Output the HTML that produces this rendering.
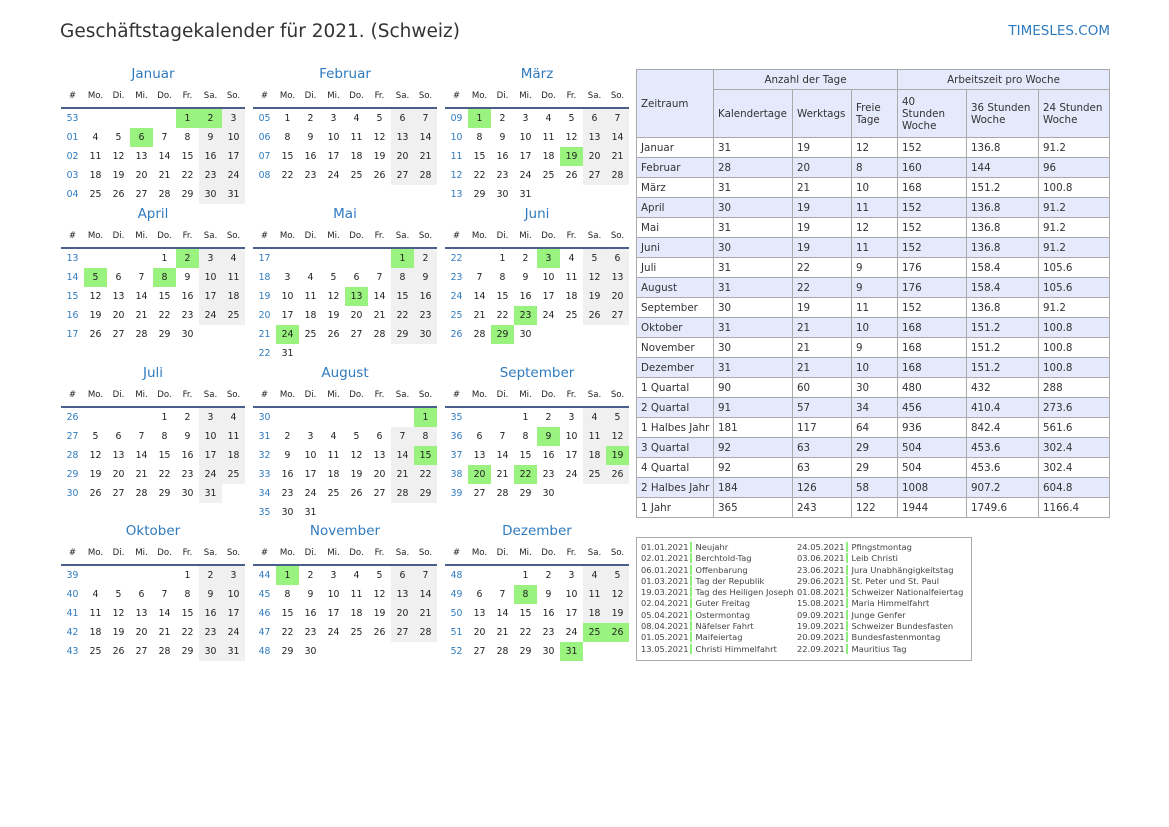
<!DOCTYPE html><html><head><meta charset="utf-8"><style>
body{margin:0;width:1169px;height:827px;background:#fff;font-family:"DejaVu Sans","Liberation Sans",sans-serif;color:#222;position:relative;overflow:hidden}
.t{position:absolute;left:60px;top:21px;font-size:18.5px;color:#333}
.l{position:absolute;right:59px;top:23px;font-size:13.5px;color:#2f7bbf}
.m{position:absolute;width:184px}
.m .h{height:20px;line-height:18px;text-align:center;font-size:13.5px;color:#2f7bbf}
.m table{border-collapse:collapse;width:184px;table-layout:fixed}
.m td{width:23px;height:19px;padding:0;text-align:center;font-size:9.3px;line-height:17px}
.m tr.hd td{height:22px;line-height:22px;font-size:8.6px;border-bottom:2px solid #4a5f8a}
.m td.w{color:#2f7bbf}
.m td.s{background:#f0f0f0}
.m td.g{background:#9af27f}
.k{position:absolute;left:636px;top:69px;border-collapse:collapse;font-size:10.3px;color:#333}
.k td{border:1px solid #aaa;padding:0 0 0 4px;height:19px;line-height:12px;background:#fff}
.k tr.a td,.k tr.hh td{background:#e5e9fc}
.f{position:absolute;left:636px;top:537px;width:334px;height:122px;border:1px solid #aaa;font-size:8.3px;color:#444}
.f div{position:absolute;line-height:11.3px;white-space:nowrap}
.f span{border-right:2px solid #8ef07a;padding-right:1px;margin-right:4px}
</style></head><body>
<div class="t">Geschäftstagekalender für 2021. (Schweiz)</div>
<div class="l">TIMESLES.COM</div>

<div class="m" style="left:61px;top:65px"><div class="h">Januar</div><table>
<tr class="hd"><td>#</td><td>Mo.</td><td>Di.</td><td>Mi.</td><td>Do.</td><td>Fr.</td><td>Sa.</td><td>So.</td></tr>
<tr><td class="w">53</td><td></td><td></td><td></td><td></td><td class="g">1</td><td class="g">2</td><td class="s">3</td></tr>
<tr><td class="w">01</td><td>4</td><td>5</td><td class="g">6</td><td>7</td><td>8</td><td class="s">9</td><td class="s">10</td></tr>
<tr><td class="w">02</td><td>11</td><td>12</td><td>13</td><td>14</td><td>15</td><td class="s">16</td><td class="s">17</td></tr>
<tr><td class="w">03</td><td>18</td><td>19</td><td>20</td><td>21</td><td>22</td><td class="s">23</td><td class="s">24</td></tr>
<tr><td class="w">04</td><td>25</td><td>26</td><td>27</td><td>28</td><td>29</td><td class="s">30</td><td class="s">31</td></tr>
</table></div>

<div class="m" style="left:253px;top:65px"><div class="h">Februar</div><table>
<tr class="hd"><td>#</td><td>Mo.</td><td>Di.</td><td>Mi.</td><td>Do.</td><td>Fr.</td><td>Sa.</td><td>So.</td></tr>
<tr><td class="w">05</td><td>1</td><td>2</td><td>3</td><td>4</td><td>5</td><td class="s">6</td><td class="s">7</td></tr>
<tr><td class="w">06</td><td>8</td><td>9</td><td>10</td><td>11</td><td>12</td><td class="s">13</td><td class="s">14</td></tr>
<tr><td class="w">07</td><td>15</td><td>16</td><td>17</td><td>18</td><td>19</td><td class="s">20</td><td class="s">21</td></tr>
<tr><td class="w">08</td><td>22</td><td>23</td><td>24</td><td>25</td><td>26</td><td class="s">27</td><td class="s">28</td></tr>
</table></div>

<div class="m" style="left:445px;top:65px"><div class="h">März</div><table>
<tr class="hd"><td>#</td><td>Mo.</td><td>Di.</td><td>Mi.</td><td>Do.</td><td>Fr.</td><td>Sa.</td><td>So.</td></tr>
<tr><td class="w">09</td><td class="g">1</td><td>2</td><td>3</td><td>4</td><td>5</td><td class="s">6</td><td class="s">7</td></tr>
<tr><td class="w">10</td><td>8</td><td>9</td><td>10</td><td>11</td><td>12</td><td class="s">13</td><td class="s">14</td></tr>
<tr><td class="w">11</td><td>15</td><td>16</td><td>17</td><td>18</td><td class="g">19</td><td class="s">20</td><td class="s">21</td></tr>
<tr><td class="w">12</td><td>22</td><td>23</td><td>24</td><td>25</td><td>26</td><td class="s">27</td><td class="s">28</td></tr>
<tr><td class="w">13</td><td>29</td><td>30</td><td>31</td><td></td><td></td><td></td><td></td></tr>
</table></div>

<div class="m" style="left:61px;top:205px"><div class="h">April</div><table>
<tr class="hd"><td>#</td><td>Mo.</td><td>Di.</td><td>Mi.</td><td>Do.</td><td>Fr.</td><td>Sa.</td><td>So.</td></tr>
<tr><td class="w">13</td><td></td><td></td><td></td><td>1</td><td class="g">2</td><td class="s">3</td><td class="s">4</td></tr>
<tr><td class="w">14</td><td class="g">5</td><td>6</td><td>7</td><td class="g">8</td><td>9</td><td class="s">10</td><td class="s">11</td></tr>
<tr><td class="w">15</td><td>12</td><td>13</td><td>14</td><td>15</td><td>16</td><td class="s">17</td><td class="s">18</td></tr>
<tr><td class="w">16</td><td>19</td><td>20</td><td>21</td><td>22</td><td>23</td><td class="s">24</td><td class="s">25</td></tr>
<tr><td class="w">17</td><td>26</td><td>27</td><td>28</td><td>29</td><td>30</td><td></td><td></td></tr>
</table></div>

<div class="m" style="left:253px;top:205px"><div class="h">Mai</div><table>
<tr class="hd"><td>#</td><td>Mo.</td><td>Di.</td><td>Mi.</td><td>Do.</td><td>Fr.</td><td>Sa.</td><td>So.</td></tr>
<tr><td class="w">17</td><td></td><td></td><td></td><td></td><td></td><td class="g">1</td><td class="s">2</td></tr>
<tr><td class="w">18</td><td>3</td><td>4</td><td>5</td><td>6</td><td>7</td><td class="s">8</td><td class="s">9</td></tr>
<tr><td class="w">19</td><td>10</td><td>11</td><td>12</td><td class="g">13</td><td>14</td><td class="s">15</td><td class="s">16</td></tr>
<tr><td class="w">20</td><td>17</td><td>18</td><td>19</td><td>20</td><td>21</td><td class="s">22</td><td class="s">23</td></tr>
<tr><td class="w">21</td><td class="g">24</td><td>25</td><td>26</td><td>27</td><td>28</td><td class="s">29</td><td class="s">30</td></tr>
<tr><td class="w">22</td><td>31</td><td></td><td></td><td></td><td></td><td></td><td></td></tr>
</table></div>

<div class="m" style="left:445px;top:205px"><div class="h">Juni</div><table>
<tr class="hd"><td>#</td><td>Mo.</td><td>Di.</td><td>Mi.</td><td>Do.</td><td>Fr.</td><td>Sa.</td><td>So.</td></tr>
<tr><td class="w">22</td><td></td><td>1</td><td>2</td><td class="g">3</td><td>4</td><td class="s">5</td><td class="s">6</td></tr>
<tr><td class="w">23</td><td>7</td><td>8</td><td>9</td><td>10</td><td>11</td><td class="s">12</td><td class="s">13</td></tr>
<tr><td class="w">24</td><td>14</td><td>15</td><td>16</td><td>17</td><td>18</td><td class="s">19</td><td class="s">20</td></tr>
<tr><td class="w">25</td><td>21</td><td>22</td><td class="g">23</td><td>24</td><td>25</td><td class="s">26</td><td class="s">27</td></tr>
<tr><td class="w">26</td><td>28</td><td class="g">29</td><td>30</td><td></td><td></td><td></td><td></td></tr>
</table></div>

<div class="m" style="left:61px;top:364px"><div class="h">Juli</div><table>
<tr class="hd"><td>#</td><td>Mo.</td><td>Di.</td><td>Mi.</td><td>Do.</td><td>Fr.</td><td>Sa.</td><td>So.</td></tr>
<tr><td class="w">26</td><td></td><td></td><td></td><td>1</td><td>2</td><td class="s">3</td><td class="s">4</td></tr>
<tr><td class="w">27</td><td>5</td><td>6</td><td>7</td><td>8</td><td>9</td><td class="s">10</td><td class="s">11</td></tr>
<tr><td class="w">28</td><td>12</td><td>13</td><td>14</td><td>15</td><td>16</td><td class="s">17</td><td class="s">18</td></tr>
<tr><td class="w">29</td><td>19</td><td>20</td><td>21</td><td>22</td><td>23</td><td class="s">24</td><td class="s">25</td></tr>
<tr><td class="w">30</td><td>26</td><td>27</td><td>28</td><td>29</td><td>30</td><td class="s">31</td><td></td></tr>
</table></div>

<div class="m" style="left:253px;top:364px"><div class="h">August</div><table>
<tr class="hd"><td>#</td><td>Mo.</td><td>Di.</td><td>Mi.</td><td>Do.</td><td>Fr.</td><td>Sa.</td><td>So.</td></tr>
<tr><td class="w">30</td><td></td><td></td><td></td><td></td><td></td><td></td><td class="g">1</td></tr>
<tr><td class="w">31</td><td>2</td><td>3</td><td>4</td><td>5</td><td>6</td><td class="s">7</td><td class="s">8</td></tr>
<tr><td class="w">32</td><td>9</td><td>10</td><td>11</td><td>12</td><td>13</td><td class="s">14</td><td class="g">15</td></tr>
<tr><td class="w">33</td><td>16</td><td>17</td><td>18</td><td>19</td><td>20</td><td class="s">21</td><td class="s">22</td></tr>
<tr><td class="w">34</td><td>23</td><td>24</td><td>25</td><td>26</td><td>27</td><td class="s">28</td><td class="s">29</td></tr>
<tr><td class="w">35</td><td>30</td><td>31</td><td></td><td></td><td></td><td></td><td></td></tr>
</table></div>

<div class="m" style="left:445px;top:364px"><div class="h">September</div><table>
<tr class="hd"><td>#</td><td>Mo.</td><td>Di.</td><td>Mi.</td><td>Do.</td><td>Fr.</td><td>Sa.</td><td>So.</td></tr>
<tr><td class="w">35</td><td></td><td></td><td>1</td><td>2</td><td>3</td><td class="s">4</td><td class="s">5</td></tr>
<tr><td class="w">36</td><td>6</td><td>7</td><td>8</td><td class="g">9</td><td>10</td><td class="s">11</td><td class="s">12</td></tr>
<tr><td class="w">37</td><td>13</td><td>14</td><td>15</td><td>16</td><td>17</td><td class="s">18</td><td class="g">19</td></tr>
<tr><td class="w">38</td><td class="g">20</td><td>21</td><td class="g">22</td><td>23</td><td>24</td><td class="s">25</td><td class="s">26</td></tr>
<tr><td class="w">39</td><td>27</td><td>28</td><td>29</td><td>30</td><td></td><td></td><td></td></tr>
</table></div>

<div class="m" style="left:61px;top:522px"><div class="h">Oktober</div><table>
<tr class="hd"><td>#</td><td>Mo.</td><td>Di.</td><td>Mi.</td><td>Do.</td><td>Fr.</td><td>Sa.</td><td>So.</td></tr>
<tr><td class="w">39</td><td></td><td></td><td></td><td></td><td>1</td><td class="s">2</td><td class="s">3</td></tr>
<tr><td class="w">40</td><td>4</td><td>5</td><td>6</td><td>7</td><td>8</td><td class="s">9</td><td class="s">10</td></tr>
<tr><td class="w">41</td><td>11</td><td>12</td><td>13</td><td>14</td><td>15</td><td class="s">16</td><td class="s">17</td></tr>
<tr><td class="w">42</td><td>18</td><td>19</td><td>20</td><td>21</td><td>22</td><td class="s">23</td><td class="s">24</td></tr>
<tr><td class="w">43</td><td>25</td><td>26</td><td>27</td><td>28</td><td>29</td><td class="s">30</td><td class="s">31</td></tr>
</table></div>

<div class="m" style="left:253px;top:522px"><div class="h">November</div><table>
<tr class="hd"><td>#</td><td>Mo.</td><td>Di.</td><td>Mi.</td><td>Do.</td><td>Fr.</td><td>Sa.</td><td>So.</td></tr>
<tr><td class="w">44</td><td class="g">1</td><td>2</td><td>3</td><td>4</td><td>5</td><td class="s">6</td><td class="s">7</td></tr>
<tr><td class="w">45</td><td>8</td><td>9</td><td>10</td><td>11</td><td>12</td><td class="s">13</td><td class="s">14</td></tr>
<tr><td class="w">46</td><td>15</td><td>16</td><td>17</td><td>18</td><td>19</td><td class="s">20</td><td class="s">21</td></tr>
<tr><td class="w">47</td><td>22</td><td>23</td><td>24</td><td>25</td><td>26</td><td class="s">27</td><td class="s">28</td></tr>
<tr><td class="w">48</td><td>29</td><td>30</td><td></td><td></td><td></td><td></td><td></td></tr>
</table></div>

<div class="m" style="left:445px;top:522px"><div class="h">Dezember</div><table>
<tr class="hd"><td>#</td><td>Mo.</td><td>Di.</td><td>Mi.</td><td>Do.</td><td>Fr.</td><td>Sa.</td><td>So.</td></tr>
<tr><td class="w">48</td><td></td><td></td><td>1</td><td>2</td><td>3</td><td class="s">4</td><td class="s">5</td></tr>
<tr><td class="w">49</td><td>6</td><td>7</td><td class="g">8</td><td>9</td><td>10</td><td class="s">11</td><td class="s">12</td></tr>
<tr><td class="w">50</td><td>13</td><td>14</td><td>15</td><td>16</td><td>17</td><td class="s">18</td><td class="s">19</td></tr>
<tr><td class="w">51</td><td>20</td><td>21</td><td>22</td><td>23</td><td>24</td><td class="g">25</td><td class="g">26</td></tr>
<tr><td class="w">52</td><td>27</td><td>28</td><td>29</td><td>30</td><td class="g">31</td><td></td><td></td></tr>
</table></div>

<table class="k">
<tr class="hh"><td rowspan="2" style="width:72px">Zeitraum</td><td colspan="3" style="text-align:center;padding:0;height:19px">Anzahl der Tage</td><td colspan="3" style="text-align:center;padding:0">Arbeitszeit pro Woche</td></tr>
<tr class="hh" style="height:48px"><td style="width:74px">Kalendertage</td><td style="width:54px">Werktags</td><td style="width:41px">Freie Tage</td><td style="width:50px;padding-right:14px">40 Stunden Woche</td><td style="width:67px">36 Stunden Woche</td><td style="width:66px">24 Stunden Woche</td></tr>
<tr><td>Januar</td><td>31</td><td>19</td><td>12</td><td>152</td><td>136.8</td><td>91.2</td></tr>
<tr class="a"><td>Februar</td><td>28</td><td>20</td><td>8</td><td>160</td><td>144</td><td>96</td></tr>
<tr><td>März</td><td>31</td><td>21</td><td>10</td><td>168</td><td>151.2</td><td>100.8</td></tr>
<tr class="a"><td>April</td><td>30</td><td>19</td><td>11</td><td>152</td><td>136.8</td><td>91.2</td></tr>
<tr><td>Mai</td><td>31</td><td>19</td><td>12</td><td>152</td><td>136.8</td><td>91.2</td></tr>
<tr class="a"><td>Juni</td><td>30</td><td>19</td><td>11</td><td>152</td><td>136.8</td><td>91.2</td></tr>
<tr><td>Juli</td><td>31</td><td>22</td><td>9</td><td>176</td><td>158.4</td><td>105.6</td></tr>
<tr class="a"><td>August</td><td>31</td><td>22</td><td>9</td><td>176</td><td>158.4</td><td>105.6</td></tr>
<tr><td>September</td><td>30</td><td>19</td><td>11</td><td>152</td><td>136.8</td><td>91.2</td></tr>
<tr class="a"><td>Oktober</td><td>31</td><td>21</td><td>10</td><td>168</td><td>151.2</td><td>100.8</td></tr>
<tr><td>November</td><td>30</td><td>21</td><td>9</td><td>168</td><td>151.2</td><td>100.8</td></tr>
<tr class="a"><td>Dezember</td><td>31</td><td>21</td><td>10</td><td>168</td><td>151.2</td><td>100.8</td></tr>
<tr><td>1 Quartal</td><td>90</td><td>60</td><td>30</td><td>480</td><td>432</td><td>288</td></tr>
<tr class="a"><td>2 Quartal</td><td>91</td><td>57</td><td>34</td><td>456</td><td>410.4</td><td>273.6</td></tr>
<tr><td>1 Halbes Jahr</td><td>181</td><td>117</td><td>64</td><td>936</td><td>842.4</td><td>561.6</td></tr>
<tr class="a"><td>3 Quartal</td><td>92</td><td>63</td><td>29</td><td>504</td><td>453.6</td><td>302.4</td></tr>
<tr><td>4 Quartal</td><td>92</td><td>63</td><td>29</td><td>504</td><td>453.6</td><td>302.4</td></tr>
<tr class="a"><td>2 Halbes Jahr</td><td>184</td><td>126</td><td>58</td><td>1008</td><td>907.2</td><td>604.8</td></tr>
<tr><td>1 Jahr</td><td>365</td><td>243</td><td>122</td><td>1944</td><td>1749.6</td><td>1166.4</td></tr>
</table>

<div class="f">
<div style="left:4px;top:4px">
<span>01.01.2021</span>Neujahr<br><span>02.01.2021</span>Berchtold-Tag<br><span>06.01.2021</span>Offenbarung<br><span>01.03.2021</span>Tag der Republik<br><span>19.03.2021</span>Tag des Heiligen Joseph<br><span>02.04.2021</span>Guter Freitag<br><span>05.04.2021</span>Ostermontag<br><span>08.04.2021</span>Näfelser Fahrt<br><span>01.05.2021</span>Maifeiertag<br><span>13.05.2021</span>Christi Himmelfahrt</div>
<div style="left:160px;top:4px">
<span>24.05.2021</span>Pfingstmontag<br><span>03.06.2021</span>Leib Christi<br><span>23.06.2021</span>Jura Unabhängigkeitstag<br><span>29.06.2021</span>St. Peter und St. Paul<br><span>01.08.2021</span>Schweizer Nationalfeiertag<br><span>15.08.2021</span>Maria Himmelfahrt<br><span>09.09.2021</span>Junge Genfer<br><span>19.09.2021</span>Schweizer Bundesfasten<br><span>20.09.2021</span>Bundesfastenmontag<br><span>22.09.2021</span>Mauritius Tag</div>
</div>
</body></html>
